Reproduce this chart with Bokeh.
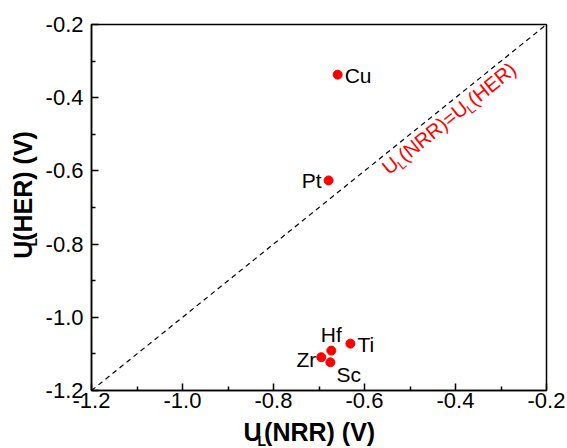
import math
from bokeh.plotting import figure
from bokeh.models import Label, FixedTicker, Range1d
from bokeh.layouts import row, column
from bokeh.embed import file_html
from bokeh.resources import INLINE

# ---------------- data ----------------
elements = ["Cu", "Pt", "Hf", "Ti", "Zr", "Sc"]
ul_nrr = [-0.659, -0.679, -0.673, -0.631, -0.695, -0.675]
ul_her = [-0.337, -0.626, -1.091, -1.072, -1.109, -1.123]

x_ticks = [-1.2, -1.0, -0.8, -0.6, -0.4, -0.2]
x_tick_labels = ["-1.2", "-1.0", "-0.8", "-0.6", "-0.4", "-0.2"]
y_ticks = [-1.2, -1.0, -0.8, -0.6, -0.4, -0.2]
y_tick_labels = ["-1.2", "-1.0", "-0.8", "-0.6", "-0.4", "-0.2"]
minor_ticks = [-1.1, -0.9, -0.7, -0.5, -0.3]

X_MIN, X_MAX = x_ticks[0], x_ticks[-1]
Y_MIN, Y_MAX = y_ticks[0], y_ticks[-1]

# ---------------- layout (page pixels) ----------------
W, H = 567, 448
YLAB_W = 40          # left strip holding the y-axis title
XLAB_H = 31          # bottom strip holding the x-axis title
FL, FR, FT, FB = 91, 546, 24, 390
FONT = "Liberation Sans"
MID = 0.35           # baseline -> middle distance, in em

PW, PH = W - YLAB_W, H - XLAB_H

p = figure(width=PW, height=PH, x_range=Range1d(X_MIN, X_MAX), y_range=Range1d(Y_MIN, Y_MAX),
           output_backend="svg", toolbar_location=None, title=None,
           min_border_left=FL - YLAB_W, min_border_right=W - FR,
           min_border_top=FT, min_border_bottom=PH - FB)
p.background_fill_color = "white"
p.border_fill_color = "white"
p.grid.visible = False
p.outline_line_color = "black"
p.outline_line_width = 1.5

p.xaxis.ticker = FixedTicker(ticks=x_ticks, minor_ticks=minor_ticks)
p.yaxis.ticker = FixedTicker(ticks=y_ticks, minor_ticks=minor_ticks)
p.xaxis.major_label_overrides = dict(zip(x_ticks, x_tick_labels))
p.yaxis.major_label_overrides = dict(zip(y_ticks, y_tick_labels))
for ax in (p.xaxis, p.yaxis):
    ax.axis_line_width = 1.5
    ax.axis_line_color = "black"
    ax.major_tick_in = 7
    ax.major_tick_out = 0
    ax.minor_tick_in = 4
    ax.minor_tick_out = 0
    ax.major_tick_line_width = 1.5
    ax.minor_tick_line_width = 1.5
    ax.major_tick_line_color = "black"
    ax.minor_tick_line_color = "black"
    ax.major_label_text_font = FONT
    ax.major_label_text_font_size = "22px"
    ax.major_label_text_color = "black"
p.xaxis.major_label_standoff = 2
p.yaxis.major_label_standoff = 8


def dx(px):
    return X_MIN + (px - FL) / (FR - FL) * (X_MAX - X_MIN)


def dy(py):
    return Y_MIN + (FB - py) / (FB - FT) * (Y_MAX - Y_MIN)


def to_px(x):
    return FL + (x - X_MIN) / (X_MAX - X_MIN) * (FR - FL)


def to_py(y):
    return FB - (y - Y_MIN) / (Y_MAX - Y_MIN) * (FB - FT)


# diagonal y = x
p.line([X_MIN, X_MAX], [Y_MIN, Y_MAX], line_color="black", line_width=1.2, line_dash="5 4")

# points
p.scatter(ul_nrr, ul_her, size=9, color="#ff0000", line_color="#ff0000")

# point labels: (dx, dy of text middle from the dot, in px; alignment)
label_style = {
    "Cu": (7, 1, "left"),
    "Pt": (-7, 0, "right"),
    "Hf": (0, -16, "center"),
    "Ti": (7, 1, "left"),
    "Zr": (-5, 2, "right"),
    "Sc": (6, 12, "left"),
}
for name, x, y in zip(elements, ul_nrr, ul_her):
    ox, oy, al = label_style[name]
    p.add_layout(Label(x=dx(to_px(x) + ox), y=dy(to_py(y) + oy), text=name,
                       text_font=FONT, text_font_size="21px", text_color="black",
                       text_align=al, text_baseline="middle"))

# rich text (with subscript) helper
WREG = {"U": .722, "L": .556, "(": .333, ")": .333, "N": .722, "R": .722, "=": .584,
        "H": .722, "E": .667, "V": .667, " ": .278}
WBOLD = {"U": .722, "L": .611, "(": .333, ")": .333, "N": .722, "R": .722, "=": .584,
         "H": .722, "E": .667, "V": .667, " ": .278}


def rich(fig, conv, pieces, sx, sy, angle, color, bold):
    """sx, sy: page pixel of the baseline start; pieces: (text, size, baseline shift, kern)."""
    table = WBOLD if bold else WREG
    d = (math.cos(angle), -math.sin(angle))
    n = (math.sin(angle), math.cos(angle))
    pos = 0.0
    for text, size, shift, kern_before in pieces:
        pos += kern_before
        off = shift - MID * size          # from baseline to text middle
        px = sx + d[0] * pos + n[0] * off
        py = sy + d[1] * pos + n[1] * off
        x, y = conv(px, py)
        fig.add_layout(Label(x=x, y=y, text=text, angle=angle,
                             text_font=FONT, text_font_size=f"{size}px",
                             text_font_style="bold" if bold else "normal",
                             text_color=color, text_align="left", text_baseline="middle"))
        pos += sum(table[c] for c in text) * size


# diagonal annotation (inside the frame), set a little below the dashed line
theta = math.atan2(FB - FT, FR - FL)
gap = 4
rich(p, lambda px, py: (dx(px), dy(py)),
     [("U", 20, 0, 0), ("L", 13, 4, -1), ("(NRR)=U", 20, 0, 0), ("L", 13, 4, -1), ("(HER)", 20, 0, 0)],
     386 + gap * math.sin(theta), 172 + gap * math.cos(theta), theta, "#ff0000", False)


def strip(w, h):
    f = figure(width=w, height=h, x_range=Range1d(0, w), y_range=Range1d(0, h),
               output_backend="svg", toolbar_location=None, title=None, min_border=0,
               x_axis_location=None, y_axis_location=None)
    f.grid.visible = False
    f.outline_line_color = None
    f.background_fill_color = "white"
    f.border_fill_color = "white"
    return f


# x-axis title strip: full page width, page y offset PH
xs = strip(W, XLAB_H)
rich(xs, lambda px, py: (px, XLAB_H - (py - PH)),
     [("U", 25, 0, 0), ("L", 14, 5, -4), ("(NRR) (V)", 25, 0, -2)], 243, 440, 0.0, "black", True)

# y-axis title strip: page offsets 0, 0, height PH
ys = strip(YLAB_W, PH)
rich(ys, lambda px, py: (px, PH - py),
     [("U", 25, 0, 0), ("L", 14, 5, -4), ("(HER) (V)", 25, 0, -2)], 31, 267, math.pi / 2, "black", True)

layout = column(row(ys, p, spacing=0), xs, spacing=0)

open("out.html", "w").write(file_html(layout, INLINE))
